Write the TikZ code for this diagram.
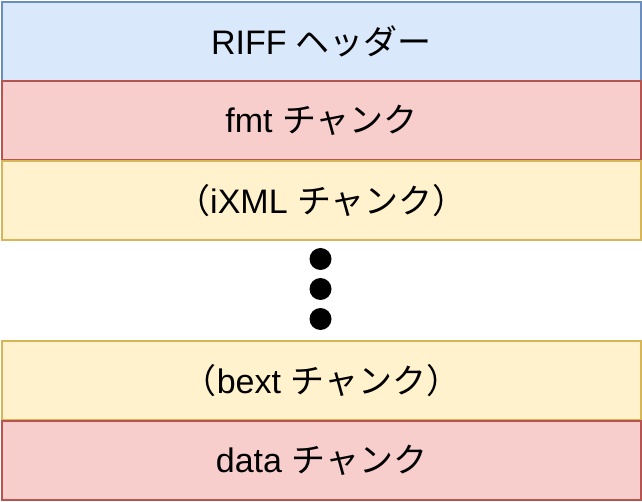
\documentclass[tikz,border=0pt]{standalone}
\usepackage{fontspec}
\setmainfont{Liberation Sans}
\newfontfamily\jp{Noto Sans CJK JP}
\definecolor{bluefill}{HTML}{DAE8FC}
\definecolor{bluedraw}{HTML}{6C8EBF}
\definecolor{redfill}{HTML}{F8CECC}
\definecolor{reddraw}{HTML}{B85450}
\definecolor{yellowfill}{HTML}{FFF2CC}
\definecolor{yellowdraw}{HTML}{D6B656}
\begin{document}
\begin{tikzpicture}[x=1pt,y=-1pt,
  block/.style={draw, line width=2pt, minimum width=639pt, minimum height=79pt, inner sep=0pt, font=\fontsize{34}{40}\selectfont, anchor=north west},
  blue/.style={block, fill=bluefill, draw=bluedraw},
  red/.style={block, fill=redfill, draw=reddraw},
  yellow/.style={block, fill=yellowfill, draw=yellowdraw},
  dot/.style={circle, fill=black, minimum size=22pt, inner sep=0pt}]
\useasboundingbox (0,0) rectangle (642,502);
\node[blue] (riff) at (1,1) {RIFF {\jp ヘッダー}};
\node[red] (fmt) at (1,80) {fmt {\jp チャンク}};
\node[yellow] (ixml) at (1,160) {{\jp （}iXML {\jp チャンク）}};
\node[dot] (d1) at (320.5,259) {};
\node[dot] (d2) at (320.5,289) {};
\node[dot] (d3) at (320.5,319) {};
\node[yellow] (bext) at (1,340) {{\jp （}bext {\jp チャンク）}};
\node[red] (data) at (1,420) {data {\jp チャンク}};
\end{tikzpicture}
\end{document}
